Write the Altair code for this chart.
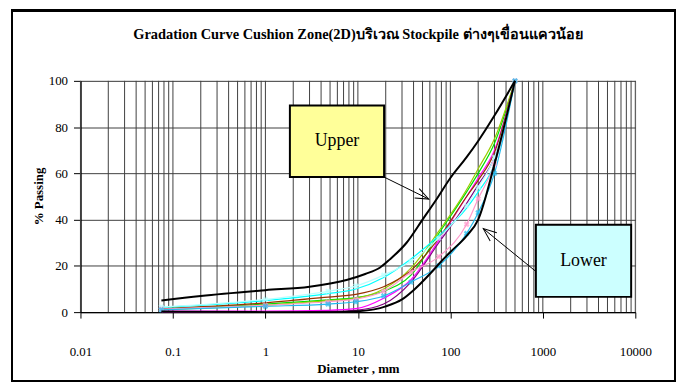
import altair as alt
import pandas as pd

# ---------------- data ----------------
sieve_mm = [0.075, 1, 4.75, 9.5, 19, 37.5, 75, 150, 200, 300, 500]

series_names = ["Green", "Olive", "Magenta", "Purple", "Brown", "Cyan",
                "LightCyan", "Pink", "SkyBlue"]
series_colors = ["#00E000", "#99CC00", "#FF00FF", "#800080", "#993300",
                 "#00FFFF", "#B8FFFF", "#FF99CC", "#22BBEE"]

green = [1.5, 3.5, 5.3, 6.3, 9, 16, 34, 52, 60, 73, 100]
olive = [1, 3, 5, 6, 10, 19, 35, 53, 62, 75, 100]
magenta = [0.5, 0.5, 0.8, 1.5, 6, 14, 31, 50, 58, 70, 100]
purple = [0, 0, 0.3, 0.8, 3.5, 13, 30, 47, 55, 67, 100]
brown = [1.5, 4, 6.5, 7.7, 11, 18, 32, 50, 57, 69, 100]
cyan = [2, 5, 8, 10, 15, 23, 33, 45, 52, 64, 100]
light_cyan = [2.2, 5.5, 9, 11.3, 16, 22, 32, 46, 54, 67, 100]
pink = [1.3, 3, 4.5, 5.6, 9, 17.3, 24, 38, 49, 64, 100]
sky_blue = [1, 2.5, 3.5, 4.5, 7, 13, 20, 34, 43, 60, 100]
series_values = [green, olive, magenta, purple, brown, cyan, light_cyan, pink, sky_blue]

upper_size = [0.075, 0.2, 1, 3, 7.7, 12, 17.4, 22, 33.6, 50, 70, 100, 150, 200, 300, 500]
upper_pct = [5, 7, 9.5, 11, 14, 16.5, 19.3, 22.7, 30, 40, 48.5, 58, 67, 74, 85, 100]
lower_size = [0.075, 1, 5, 10, 15, 20, 30, 40, 60, 80, 100, 150, 200, 300, 500]
lower_pct = [0.3, 0, 0, 0.4, 1.2, 2.5, 5.5, 9.5, 16.5, 22, 26, 33, 40, 64, 100]

x_labels = [0.01, 0.1, 1, 10, 100, 1000, 10000]
y_labels = [0, 20, 40, 60, 80, 100]

box_text = ["Upper", "Lower"]
box_fill = ["#FFFF99", "#CCFFFF"]
box_x1 = [1.84, 841]
box_x2 = [19.2, 9016]
box_y1 = [58.4, 6.6]
box_y2 = [89.3, 37.8]
arrow_x1 = [19.2, 841]
arrow_y1 = [58.4, 17.6]
arrow_x2 = [58.3, 227]
arrow_y2 = [48.9, 36.1]
arrow_angle = [26, 219]

# ---------------- tables ----------------
rows = []
for name, vals in zip(series_names, series_values):
    for s, v in zip(sieve_mm, vals):
        rows.append({"series": name, "size": s, "pct": v})
curves = pd.DataFrame(rows)

env = pd.concat([
    pd.DataFrame({"series": "Upper", "size": upper_size, "pct": upper_pct}),
    pd.DataFrame({"series": "Lower", "size": lower_size, "pct": lower_pct}),
])

grid_vals = [m * d for d in [0.01, 0.1, 1, 10, 100, 1000] for m in range(1, 10)] + [10000]
grid = pd.DataFrame({"g": grid_vals})

boxes = pd.DataFrame({"label": box_text, "fill": box_fill, "x1": box_x1, "x2": box_x2,
                      "y1": box_y1, "y2": box_y2})
boxes["xm"] = (boxes["x1"] * boxes["x2"]) ** 0.5
boxes["ym"] = (boxes["y1"] + boxes["y2"]) / 2
arrows = pd.DataFrame({"x1": arrow_x1, "y1": arrow_y1, "x2": arrow_x2, "y2": arrow_y2,
                       "ang": arrow_angle})

FONT = "Liberation Serif"
GRID = "#404040"
xscale = alt.Scale(type="log", domain=[0.01, 10000])
yscale = alt.Scale(domain=[0, 100])

xaxis = alt.Axis(values=x_labels, format="~g", grid=False, tickSize=6, tickColor="black",
                 domainColor="black", domainWidth=1.5, labelPadding=28, labelFont=FONT,
                 labelFontSize=13, labelColor="black", labelFlush=False,
                 title="Diameter , mm", titleFont=FONT, titleFontSize=13, titleFontWeight="bold",
                 titleColor="black", titleY=57, titleBaseline="middle")
yaxis = alt.Axis(values=y_labels, grid=True, gridColor=GRID, gridWidth=1, tickSize=7,
                 tickColor="black", domainColor="black", domainWidth=1.5, labelPadding=6,
                 labelFont=FONT, labelFontSize=13, labelColor="black",
                 title="% Passing", titleFont=FONT, titleFontSize=13, titleFontWeight="bold",
                 titleColor="black", titleX=-42, titleY=116, titleBaseline="middle",
                 titleAngle=-90)

base_x = alt.X("size:Q", scale=xscale, axis=xaxis)
base_y = alt.Y("pct:Q", scale=yscale, axis=yaxis)

gridlines = alt.Chart(grid).mark_rule(color=GRID, strokeWidth=1).encode(
    x=alt.X("g:Q", scale=xscale, axis=xaxis)
)

frame = alt.Chart(grid).mark_rect(fill="transparent", stroke="black", strokeWidth=1.5).encode(
    x=alt.value(-69), x2=alt.value(599), y=alt.value(-71), y2=alt.value(302)
)

box_rect = alt.Chart(boxes).mark_rect(stroke="black", strokeWidth=2).encode(
    x=alt.X("x1:Q", scale=xscale, axis=xaxis), x2="x2:Q",
    y=alt.Y("y1:Q", scale=yscale, axis=yaxis), y2="y2:Q",
    fill=alt.Fill("fill:N", scale=None),
)
box_label = alt.Chart(boxes).mark_text(font=FONT, fontSize=18, color="black").encode(
    x=alt.X("xm:Q", scale=xscale, axis=xaxis),
    y=alt.Y("ym:Q", scale=yscale, axis=yaxis),
    text="label:N",
)

arrow_line = alt.Chart(arrows).mark_rule(color="black", strokeWidth=1).encode(
    x=alt.X("x1:Q", scale=xscale, axis=xaxis), x2="x2:Q",
    y=alt.Y("y1:Q", scale=yscale, axis=yaxis), y2="y2:Q",
)
arrow_head = alt.Chart(arrows).mark_point(
    shape="M-1,-0.4L0,0L-1,0.4", filled=False, stroke="black", strokeWidth=1, size=700, opacity=1
).encode(
    x=alt.X("x2:Q", scale=xscale, axis=xaxis),
    y=alt.Y("y2:Q", scale=yscale, axis=yaxis),
    angle=alt.Angle("ang:Q", scale=None),
)

colored = alt.Chart(curves).mark_line(strokeWidth=1.2, interpolate="monotone").encode(
    x=base_x, y=base_y,
    color=alt.Color("series:N", scale=alt.Scale(domain=series_names, range=series_colors),
                    legend=None),
    detail="series:N",
)
marker_df = curves[curves["series"].isin(["Pink", "SkyBlue", "LightCyan"])]
markers = alt.Chart(marker_df).mark_point(shape="cross", filled=True, size=35, angle=45).encode(
    x=base_x, y=base_y,
    color=alt.Color("series:N", scale=alt.Scale(domain=series_names, range=series_colors),
                    legend=None),
)

envelope = alt.Chart(env).mark_line(color="black", strokeWidth=2, interpolate="monotone").encode(
    x=base_x, y=base_y, detail="series:N"
)

chart = alt.layer(
    gridlines, frame, box_rect, box_label, arrow_line, arrow_head, colored, markers, envelope
).properties(
    width=559, height=233,
    title=alt.TitleParams(
        "Gradation Curve Cushion Zone(2D)บริเวณ Stockpile ต่างๆเขื่อนแควน้อย",
        font=FONT, fontSize=14.5, fontWeight="bold", color="black", anchor="middle",
        offset=-33,
    ),
    padding={"left": 73, "top": 72, "right": 42, "bottom": 71},
    autosize=alt.AutoSizeParams(type="none"),
).configure_view(stroke=GRID).configure(background="white")

chart.save("out.html", embed_options={"renderer": "svg", "actions": False})
